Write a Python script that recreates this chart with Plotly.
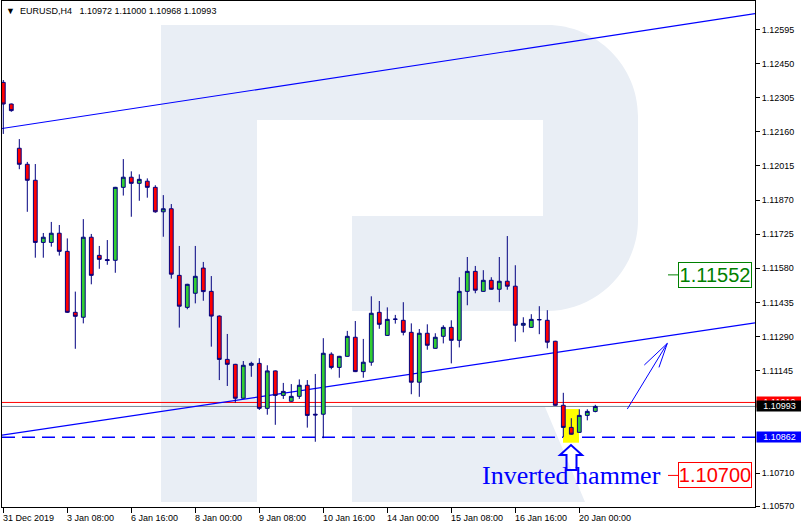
import plotly.graph_objects as go

# ---------------- data ----------------
candle_idx = list(range(75))
opens = [1.12370, 1.12278, 1.12090, 1.12022, 1.11954, 1.11690, 1.11690, 1.11729, 1.11652, 1.11393,
         1.11372, 1.11712, 1.11635, 1.11617, 1.11614, 1.11924, 1.11967, 1.11941, 1.11950, 1.11924,
         1.11820, 1.11833, 1.11550, 1.11414, 1.11474, 1.11581, 1.11482, 1.11377, 1.11193, 1.11172,
         1.11028, 1.11168, 1.11176, 1.10985, 1.11144, 1.11040, 1.11015, 1.11036, 1.11083, 1.10960,
         1.10960, 1.11215, 1.11159, 1.11206, 1.11287, 1.11141, 1.11181, 1.11393, 1.11295, 1.11363,
         1.11359, 1.11308, 1.11096, 1.11304, 1.11240, 1.11291, 1.11329, 1.11274, 1.11482, 1.11567,
         1.11482, 1.11529, 1.11491, 1.11525, 1.11504, 1.11338, 1.11329, 1.11361, 1.11359, 1.11270,
         1.10998, 1.10904, 1.10883, 1.10955, 1.10972]
highs = [1.12380, 1.12280, 1.12129, 1.12032, 1.12023, 1.11730, 1.11777, 1.11764, 1.11707, 1.11481,
         1.11789, 1.11726, 1.11675, 1.11700, 1.11926, 1.12044, 1.11992, 1.11979, 1.11962, 1.11933,
         1.11891, 1.11853, 1.11675, 1.11514, 1.11675, 1.11607, 1.11547, 1.11380, 1.11301, 1.11174,
         1.11186, 1.11183, 1.11198, 1.11168, 1.11146, 1.11093, 1.11088, 1.11108, 1.11105, 1.11131,
         1.11283, 1.11223, 1.11208, 1.11314, 1.11356, 1.11280, 1.11461, 1.11441, 1.11414, 1.11382,
         1.11436, 1.11346, 1.11322, 1.11342, 1.11304, 1.11338, 1.11359, 1.11542, 1.11628, 1.11590,
         1.11572, 1.11542, 1.11628, 1.11717, 1.11593, 1.11372, 1.11385, 1.11419, 1.11402, 1.11272,
         1.11051, 1.10943, 1.10981, 1.10981, 1.11000]
lows = [1.12151, 1.12245, 1.12001, 1.11820, 1.11625, 1.11625, 1.11672, 1.11634, 1.11390, 1.11238,
        1.11346, 1.11512, 1.11578, 1.11595, 1.11561, 1.11889, 1.11799, 1.11867, 1.11880, 1.11816,
        1.11714, 1.11536, 1.11328, 1.11406, 1.11431, 1.11442, 1.11247, 1.11105, 1.11080, 1.11009,
        1.11026, 1.11119, 1.10978, 1.10958, 1.10915, 1.11025, 1.11013, 1.11025, 1.10903, 1.10843,
        1.10858, 1.11151, 1.11115, 1.11204, 1.11139, 1.11115, 1.11166, 1.11323, 1.11293, 1.11345,
        1.11295, 1.11045, 1.11034, 1.11234, 1.11238, 1.11261, 1.11176, 1.11244, 1.11423, 1.11474,
        1.11480, 1.11489, 1.11436, 1.11489, 1.11268, 1.11308, 1.11327, 1.11300, 1.11240, 1.10996,
        1.10862, 1.10873, 1.10881, 1.10934, 1.10968]
closes = [1.12278, 1.12250, 1.12022, 1.11954, 1.11690, 1.11712, 1.11729, 1.11652, 1.11393, 1.11376,
          1.11712, 1.11550, 1.11618, 1.11613, 1.11924, 1.11967, 1.11941, 1.11958, 1.11924, 1.11820,
          1.11833, 1.11555, 1.11419, 1.11512, 1.11546, 1.11481, 1.11377, 1.11193, 1.11172, 1.11028,
          1.11168, 1.11176, 1.10985, 1.11144, 1.11040, 1.11057, 1.11036, 1.11083, 1.10955, 1.10957,
          1.11219, 1.11159, 1.11206, 1.11291, 1.11141, 1.11181, 1.11389, 1.11342, 1.11363, 1.11364,
          1.11308, 1.11096, 1.11304, 1.11253, 1.11287, 1.11329, 1.11274, 1.11482, 1.11567, 1.11487,
          1.11529, 1.11491, 1.11525, 1.11504, 1.11338, 1.11346, 1.11363, 1.11362, 1.11266, 1.10998,
          1.10904, 1.10875, 1.10955, 1.10972, 1.10993]

x_tick_idx = [0, 8, 16, 24, 32, 40, 48, 56, 64, 72]
x_tick_labels = ["31 Dec 2019", "3 Jan 08:00", "6 Jan 16:00", "8 Jan 00:00", "9 Jan 08:00",
                 "10 Jan 16:00", "14 Jan 00:00", "15 Jan 08:00", "16 Jan 16:00", "20 Jan 00:00"]
# visible price scale labels (1.10855 and 1.11000 sit behind the price tags)
y_tick_vals = [1.10570, 1.10710, 1.11145, 1.11290, 1.11435, 1.11580,
               1.11725, 1.11870, 1.12015, 1.12160, 1.12305, 1.12450, 1.12595]
y_tick_labels = ["1.10570", "1.10710", "1.11145", "1.11290", "1.11435",
                 "1.11580", "1.11725", "1.11870", "1.12015", "1.12160", "1.12305", "1.12450", "1.12595"]

title_text = "EURUSD,H4"
ohlc_last = ["1.10972", "1.11000", "1.10968", "1.10993"]

bid_price = 1.10993
ask_price = 1.11010
support_price = 1.10862
target_up = 1.11552
target_down = 1.10700
pattern_candle = 71
pattern_label = "Inverted hammer"

# channel lines: (candle index, price) end points
upper_channel = [(-0.1625, 1.12174), (93.9625, 1.12662)]
lower_channel = [(-0.1625, 1.10871), (93.9625, 1.11348)]

# ---------------- layout geometry ----------------
W, H = 801, 529
ML, MR, MT, MB = 2, 46, 1, 22
PLOT_W = W - ML - MR
PLOT_H = H - MT - MB
X_RANGE = [-0.1625, 93.9625]
Y_RANGE = [1.105658, 1.127157]

AX_FONT = "Liberation Sans, Arial, sans-serif"


def dom(px, py):
    """page pixel -> plot-domain fraction (used for the watermark only)"""
    return (px - ML) / PLOT_W, (MT + PLOT_H - py) / PLOT_H


def path_from(cmds):
    out = []
    for c, pts in cmds:
        if c == "Z":
            out.append("Z")
            continue
        coords = " ".join("%.5f,%.5f" % dom(x, y) for x, y in pts)
        out.append(c + coords)
    return " ".join(out)


logo_body = path_from([
    ("M", [(161, 25)]), ("L", [(547, 25)]),
    ("C", [(597, 25), (638, 66), (638, 116)]),
    ("L", [(638, 220)]),
    ("C", [(638, 270), (597, 311), (547, 311)]),
    ("L", [(352, 311)]), ("L", [(352, 216)]), ("L", [(543, 216)]),
    ("L", [(543, 120)]), ("L", [(257, 120)]), ("L", [(257, 502)]),
    ("L", [(161, 502)]), ("Z", []),
])
logo_leg = path_from([
    ("M", [(352, 407)]), ("L", [(545, 407)]), ("L", [(585, 502)]),
    ("L", [(352, 502)]), ("Z", []),
])

fig = go.Figure()
fig.add_trace(go.Candlestick(
    x=candle_idx, open=opens, high=highs, low=lows, close=closes,
    increasing=dict(line=dict(color="#000080", width=1), fillcolor="#32CD32"),
    decreasing=dict(line=dict(color="#000080", width=1), fillcolor="#FF0000"),
    whiskerwidth=0, hoverinfo="skip", showlegend=False,
))

LOGO = "#E9EEF5"
shapes = [
    dict(type="path", xref="x domain", yref="y domain", path=logo_body,
         fillcolor=LOGO, line=dict(width=0), layer="below"),
    dict(type="path", xref="x domain", yref="y domain", path=logo_leg,
         fillcolor=LOGO, line=dict(width=0), layer="below"),
    # yellow highlight of the pattern
    dict(type="rect", xref="x", yref="y", x0=pattern_candle - 1.04, x1=pattern_candle + 0.96,
         y0=1.10839, y1=1.10982, fillcolor="#FFFF00", line=dict(width=0), layer="below"),
    # channel
    dict(type="line", xref="x", yref="y", x0=upper_channel[0][0], y0=upper_channel[0][1],
         x1=upper_channel[1][0], y1=upper_channel[1][1], line=dict(color="#0000FF", width=1.2),
         layer="below"),
    dict(type="line", xref="x", yref="y", x0=lower_channel[0][0], y0=lower_channel[0][1],
         x1=lower_channel[1][0], y1=lower_channel[1][1], line=dict(color="#0000FF", width=1.2),
         layer="below"),
    # price lines
    dict(type="line", xref="x domain", yref="y", x0=0, x1=1, y0=ask_price, y1=ask_price,
         line=dict(color="#FF0000", width=1), layer="below"),
    dict(type="line", xref="x domain", yref="y", x0=0, x1=1, y0=bid_price, y1=bid_price,
         line=dict(color="#778899", width=1), layer="below"),
    dict(type="line", xref="x domain", yref="y", x0=0, x1=1, y0=support_price, y1=support_price,
         line=dict(color="#0000FF", width=1.4, dash="13px,7px"), layer="below"),
    # short leader lines to the target boxes
    dict(type="line", xref="x domain", yref="y", x0=(668 - ML) / PLOT_W, x1=(678 - ML) / PLOT_W,
         y0=target_up, y1=target_up, line=dict(color="#008000", width=1)),
    dict(type="line", xref="x domain", yref="y", x0=(668 - ML) / PLOT_W, x1=(678 - ML) / PLOT_W,
         y0=target_down, y1=target_down, line=dict(color="#FF0000", width=1)),
    # hollow up arrow under the pattern
    dict(type="path", xref="x", yref="y",
         path="M70.40,1.10723 L70.40,1.10787 L69.59,1.10787 L70.96,1.10829 L72.34,1.10787 "
              "L71.65,1.10787 L71.65,1.10723 Z",
         line=dict(color="#0000FF", width=2), fillcolor="rgba(0,0,0,0)"),
    # forecast arrow
    dict(type="path", xref="x", yref="y",
         path="M78.0,1.10982 L83.0,1.11261 M80.125,1.11169 L83.0,1.11261 L81.96,1.11159",
         line=dict(color="#0000FF", width=1)),
]

annotations = []
# title
annotations.append(dict(
    xref="paper", yref="paper", x=(5 - ML) / PLOT_W, y=(MT + PLOT_H - 10.5) / PLOT_H,
    xanchor="left", yanchor="middle", showarrow=False, borderpad=0,
    text="\u25BC\u00a0 " + title_text + "\u00a0\u00a0 " + " ".join(ohlc_last),
    font=dict(family=AX_FONT, size=9, color="#000000")))
# time labels (left aligned at the tick)
for xi, lab in zip(x_tick_idx, x_tick_labels):
    annotations.append(dict(
        xref="x", yref="paper", x=xi, y=0, xanchor="left", yanchor="middle",
        yshift=-11, xshift=-1, showarrow=False, borderpad=0, text=lab,
        font=dict(family=AX_FONT, size=9, color="#000000")))
# price tags on the right axis
for price, bg in [(ask_price, "#FF0000"), (bid_price, "#000000"), (support_price, "#0000FF")]:
    annotations.append(dict(
        xref="paper", yref="y", x=1, y=price, xanchor="left", yanchor="middle",
        xshift=1, showarrow=False, borderpad=0, width=45, height=10, align="center",
        bgcolor=bg, text="%.5f" % price,
        font=dict(family=AX_FONT, size=9, color="#FFFFFF")))
# target boxes
for price, col in [(target_up, "#008000"), (target_down, "#FF0000")]:
    annotations.append(dict(
        xref="paper", yref="y", x=(678 - ML) / PLOT_W, y=price, xanchor="left", yanchor="middle",
        showarrow=False, borderpad=0, width=72, height=24, bgcolor="#FFFFFF",
        bordercolor=col, borderwidth=1, text="%.5f" % price,
        font=dict(family=AX_FONT, size=20, color=col)))
# pattern label
annotations.append(dict(
    xref="x", yref="y", x=pattern_candle, y=1.10700, xanchor="center", yanchor="middle",
    showarrow=False, borderpad=0, text=pattern_label,
    font=dict(family="Liberation Serif, Times New Roman, serif", size=26, color="#0000FF")))

fig.update_layout(
    width=W, height=H, margin=dict(l=ML, r=MR, t=MT, b=MB, pad=0),
    paper_bgcolor="#FFFFFF", plot_bgcolor="#FFFFFF",
    showlegend=False, hovermode=False, boxgap=0.32,
    shapes=shapes, annotations=annotations,
    xaxis=dict(range=X_RANGE, rangeslider=dict(visible=False), showgrid=False, zeroline=False,
               showline=True, mirror=True, linecolor="#000000", linewidth=1,
               tickmode="array", tickvals=x_tick_idx, showticklabels=False,
               ticks="outside", ticklen=5, tickcolor="#000000", tickwidth=1, fixedrange=True),
    yaxis=dict(range=Y_RANGE, side="right", showgrid=False, zeroline=False,
               showline=True, mirror=True, linecolor="#000000", linewidth=1,
               tickmode="array", tickvals=y_tick_vals, ticktext=y_tick_labels,
               ticks="outside", ticklen=4, tickcolor="#000000", tickwidth=1,
               tickfont=dict(family=AX_FONT, size=9, color="#000000"), fixedrange=True),
)

fig.write_html(
    "out.html",
    config={"displayModeBar": False, "staticPlot": True},
    post_script="document.body.style.margin='0';document.body.style.padding='0';"
                "document.body.style.overflow='hidden';",
)
